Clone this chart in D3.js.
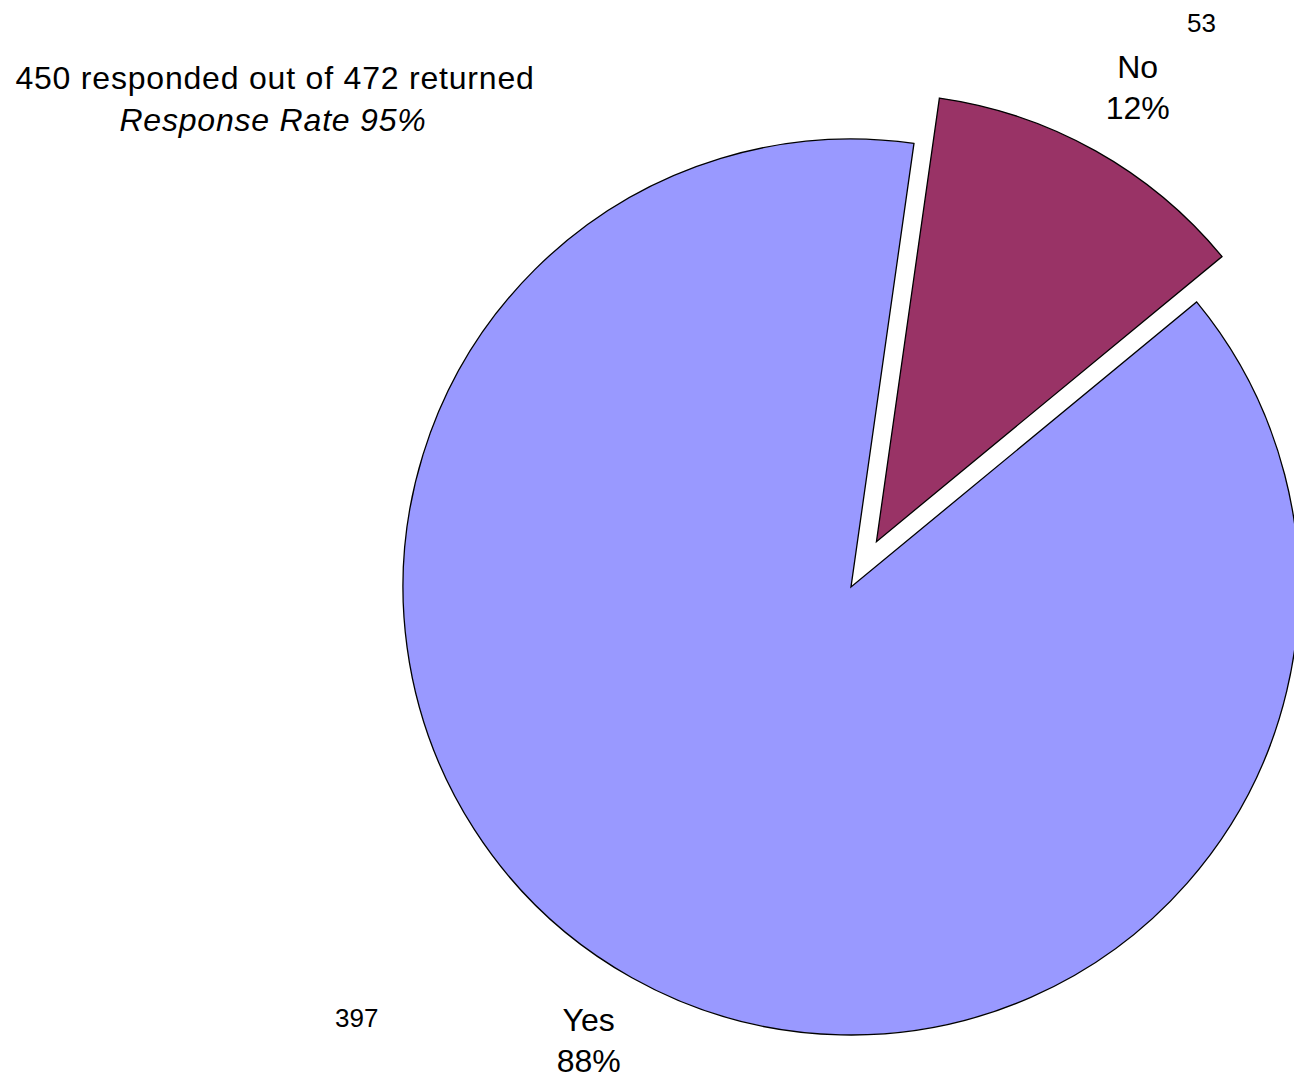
<!DOCTYPE html>
<html>
<head>
<meta charset="utf-8">
<script src="https://cdn.jsdelivr.net/npm/d3@7"></script>
<style>
  html, body { margin: 0; padding: 0; background: #fff; }
  svg { display: block; }
  text { font-family: "Liberation Sans", Arial, sans-serif; fill: #000; }
</style>
</head>
<body>
<svg id="chart" width="1294" height="1078"></svg>
<script>
// Survey answers
const categories = ["No", "Yes"];
const counts = [53, 397];
const percentLabels = ["12%", "88%"];
const colors = ["#993366", "#9999FF"];
const titleLines = ["450 responded out of 472 returned", "Response Rate 95%"];

const W = 1294, H = 1078;
const cx = 851, cy = 587, R = 448;
const explode = 52;

const svg = d3.select("#chart");

const data = categories.map((c, i) => ({ name: c, value: counts[i], pct: percentLabels[i], color: colors[i] }));

const startDeg = 8.08;
const pie = d3.pie().sort(null).value(d => d.value)
  .startAngle(startDeg * Math.PI / 180)
  .endAngle(startDeg * Math.PI / 180 + 2 * Math.PI);
const arcs = pie(data);

const arc = d3.arc().innerRadius(0).outerRadius(R);

const g = svg.append("g").attr("transform", `translate(${cx},${cy})`);

const dir = a => [Math.sin(a), -Math.cos(a)];

g.selectAll("path.slice")
  .data(arcs)
  .join("path")
  .attr("class", "slice")
  .attr("d", arc)
  .attr("fill", d => d.data.color)
  .attr("stroke", "#000")
  .attr("stroke-width", 1.3)
  .attr("transform", d => {
    if (d.data.name !== "No") return null;
    const m = (d.startAngle + d.endAngle) / 2;
    const [ux, uy] = dir(m);
    return `translate(${ux * explode},${uy * explode})`;
  });

// Category / percentage labels along each slice's middle angle
const labelRadius = { No: 578, Yes: 522 };
const labelNudge = { No: [4, 4], Yes: [-7, -2] };
const labels = g.selectAll("g.lbl")
  .data(arcs)
  .join("g")
  .attr("class", "lbl")
  .attr("transform", d => {
    const m = (d.startAngle + d.endAngle) / 2;
    const [ux, uy] = dir(m);
    const r = labelRadius[d.data.name];
    const [nx, ny] = labelNudge[d.data.name];
    return `translate(${ux * r + nx},${uy * r + ny})`;
  });
labels.append("text")
  .attr("text-anchor", "middle")
  .attr("y", -9)
  .attr("font-size", 32)
  .text(d => d.data.name);
labels.append("text")
  .attr("text-anchor", "middle")
  .attr("y", 32)
  .attr("font-size", 32)
  .text(d => d.data.pct);

// Count labels
const countPos = { No: [31.8, 665], Yes: [229.0, 655] };
g.selectAll("text.count")
  .data(arcs)
  .join("text")
  .attr("class", "count")
  .attr("text-anchor", "middle")
  .attr("font-size", 26)
  .attr("x", d => Math.sin(countPos[d.data.name][0] * Math.PI / 180) * countPos[d.data.name][1])
  .attr("y", d => -Math.cos(countPos[d.data.name][0] * Math.PI / 180) * countPos[d.data.name][1] + 10)
  .text(d => d.value);

// Response summary
svg.append("text")
  .attr("x", 275).attr("y", 89)
  .attr("text-anchor", "middle")
  .attr("font-size", 32)
  .attr("letter-spacing", 0.8)
  .text(titleLines[0]);
svg.append("text")
  .attr("x", 273).attr("y", 131)
  .attr("text-anchor", "middle")
  .attr("font-size", 32)
  .attr("font-style", "italic")
  .attr("letter-spacing", 0.8)
  .text(titleLines[1]);
</script>
</body>
</html>
